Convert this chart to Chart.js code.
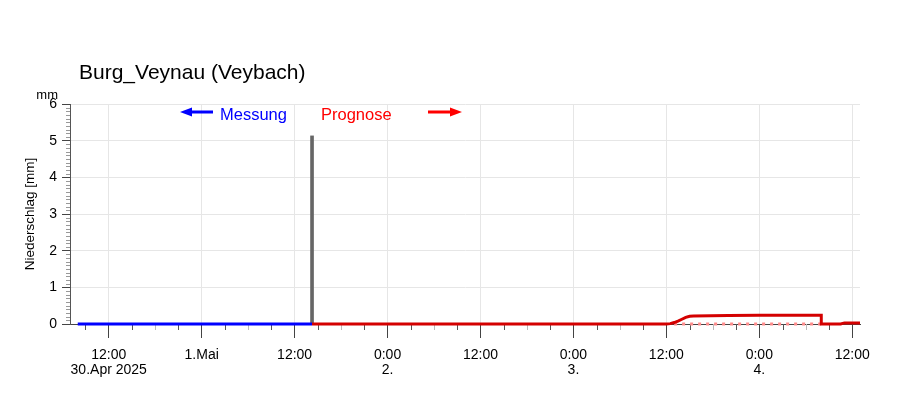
<!DOCTYPE html>
<html>
<head>
<meta charset="utf-8">
<script src="https://cdn.jsdelivr.net/npm/chart.js@4/dist/chart.umd.min.js"></script>
<style>
  body { margin: 0; background: #fff; }
  #wrap { width: 900px; height: 396px; position: relative; }
</style>
</head>
<body>
<div id="wrap"><canvas id="chart"></canvas></div>
<script>
// Stunden ab 30.Apr 2025 0:00
const titleText = 'Burg_Veynau (Veybach)';
const measHours = [8, 38.25];
const measValues = [0, 0];
const rainHours = [38.25];
const rainValues = [5.13];
const forecastHours = [38.25, 84, 84.5, 85, 85.5, 86, 86.5, 87, 87.5, 92, 96, 104, 104, 106.5, 107, 109];
const forecastValues = [0, 0, 0.01, 0.04, 0.08, 0.13, 0.18, 0.21, 0.22, 0.23, 0.24, 0.24, 0, 0, 0.03, 0.03];
const lowerHours = [85, 104];
const lowerValues = [0, 0];
const majorHours = [12, 24, 36, 48, 60, 72, 84, 96, 108];
const majorLabels = [['12:00', '30.Apr 2025'], '1.Mai', '12:00', ['0:00', '2.'], '12:00', ['0:00', '3.'], '12:00', ['0:00', '4.'], '12:00'];

const FONT = '"Liberation Sans", Arial, sans-serif';

function pts(xs, ys) {
  return xs.map((x, i) => ({ x: x, y: ys[i] }));
}
function isInt(v) {
  return Math.abs(v - Math.round(v)) < 1e-6;
}

// kleine Ticks unter den Daten, Beschriftung und Pfeile darueber
const decoPlugin = {
  id: 'deco',
  beforeDatasetsDraw(chart) {
    const ctx = chart.ctx;
    const xs = chart.scales.x, ys = chart.scales.y;
    ctx.save();
    ctx.lineWidth = 1;
    xs.ticks.forEach(t => {
      if (t.value % 12 === 0) return;
      const px = Math.round(xs.getPixelForValue(t.value)) + 0.5;
      ctx.strokeStyle = t.value % 6 === 0 ? '#bbbbbb' : '#555555';
      ctx.beginPath();
      ctx.moveTo(px, xs.top);
      ctx.lineTo(px, xs.top + 6);
      ctx.stroke();
    });
    ys.ticks.forEach(t => {
      if (isInt(t.value)) return;
      const py = Math.round(ys.getPixelForValue(t.value)) + 0.5;
      ctx.strokeStyle = '#999999';
      ctx.beginPath();
      ctx.moveTo(ys.right - 4, py);
      ctx.lineTo(ys.right, py);
      ctx.stroke();
    });
    ctx.restore();
  },
  afterDraw(chart) {
    const ctx = chart.ctx;
    ctx.save();
    // Titel
    ctx.fillStyle = '#000';
    ctx.font = '21px ' + FONT;
    ctx.textAlign = 'left';
    ctx.textBaseline = 'alphabetic';
    ctx.fillText(titleText, 79, 79);
    // Einheit
    ctx.font = '13px ' + FONT;
    ctx.textAlign = 'right';
    ctx.fillText('mm', 58, 99);
    // y-Achsentitel
    ctx.save();
    ctx.translate(30, 214);
    ctx.rotate(-Math.PI / 2);
    ctx.textAlign = 'center';
    ctx.textBaseline = 'middle';
    ctx.font = '13.5px ' + FONT;
    ctx.fillText('Niederschlag [mm]', 0, 0);
    ctx.restore();
    // Legende
    ctx.font = '16.5px ' + FONT;
    ctx.textAlign = 'left';
    ctx.textBaseline = 'alphabetic';
    ctx.fillStyle = '#0000ff';
    ctx.fillText('Messung', 220, 120);
    ctx.fillStyle = '#ff0000';
    ctx.fillText('Prognose', 321, 120);
    drawArrow(ctx, 213, 180, 112, '#0000ff');
    drawArrow(ctx, 428, 462, 112, '#ff0000');
    ctx.restore();
  }
};

function drawArrow(ctx, x0, x1, y, color) {
  const dir = x1 > x0 ? 1 : -1;
  const head = 12;
  ctx.strokeStyle = color;
  ctx.fillStyle = color;
  ctx.lineWidth = 3;
  ctx.beginPath();
  ctx.moveTo(x0, y);
  ctx.lineTo(x1 - dir * head, y);
  ctx.stroke();
  ctx.beginPath();
  ctx.moveTo(x1, y);
  ctx.lineTo(x1 - dir * head, y - 4.5);
  ctx.lineTo(x1 - dir * head, y + 4.5);
  ctx.closePath();
  ctx.fill();
}

new Chart(document.getElementById('chart'), {
  type: 'line',
  data: {
    datasets: [
      {
        label: 'Prognose unten',
        data: pts(lowerHours, lowerValues),
        borderColor: '#ff8c8c',
        borderWidth: 3,
        borderDash: [3, 5],
        pointRadius: 0,
        clip: false,
        order: 3
      },
      {
        label: 'Messung',
        data: pts(measHours, measValues),
        borderColor: '#0000ff',
        borderWidth: 3,
        pointRadius: 0,
        clip: false,
        order: 1
      },
      {
        label: 'Prognose',
        data: pts(forecastHours, forecastValues),
        borderColor: '#d40000',
        borderWidth: 3,
        pointRadius: 0,
        clip: false,
        order: 2
      },
      {
        type: 'bar',
        label: 'Niederschlag',
        data: pts(rainHours, rainValues),
        backgroundColor: '#666666',
        barThickness: 3,
        order: 10
      }
    ]
  },
  options: {
    responsive: true,
    maintainAspectRatio: false,
    animation: false,
    layout: { padding: { left: 0, right: 40, top: 104, bottom: 0 } },
    plugins: { legend: { display: false }, title: { display: false }, tooltip: { enabled: false } },
    scales: {
      x: {
        type: 'linear',
        min: 7,
        max: 109,
        offset: false,
        afterFit: s => { s.height = 72; },
        afterBuildTicks: s => {
          const t = [];
          for (let v = Math.ceil(s.min / 3) * 3; v <= s.max; v += 3) t.push({ value: v });
          s.ticks = t;
        },
        border: { color: '#444444', width: 1 },
        grid: {
          offset: false,
          color: c => (c.tick && c.tick.value % 12 === 0) ? '#e6e6e6' : 'rgba(0,0,0,0)',
          tickColor: c => (c.tick && c.tick.value % 12 === 0) ? '#444444' : 'rgba(0,0,0,0)',
          tickLength: 14
        },
        ticks: {
          autoSkip: false,
          maxRotation: 0,
          padding: 9,
          color: '#000',
          font: { family: FONT, size: 14, lineHeight: 1.1 },
          callback: v => {
            const i = majorHours.indexOf(v);
            return i >= 0 ? majorLabels[i] : '';
          }
        }
      },
      y: {
        min: 0,
        max: 6,
        afterFit: s => { s.width = 70; },
        border: { color: '#555555', width: 1 },
        grid: {
          color: c => (c.tick && isInt(c.tick.value)) ? '#e6e6e6' : 'rgba(0,0,0,0)',
          tickColor: c => (c.tick && isInt(c.tick.value)) ? '#444444' : 'rgba(0,0,0,0)',
          tickLength: 8
        },
        ticks: {
          stepSize: 0.1,
          autoSkip: false,
          padding: 5,
          color: '#000',
          font: { family: FONT, size: 14 },
          callback: v => isInt(v) ? String(Math.round(v)) : ''
        }
      }
    }
  },
  plugins: [decoPlugin]
});
</script>
</body>
</html>
